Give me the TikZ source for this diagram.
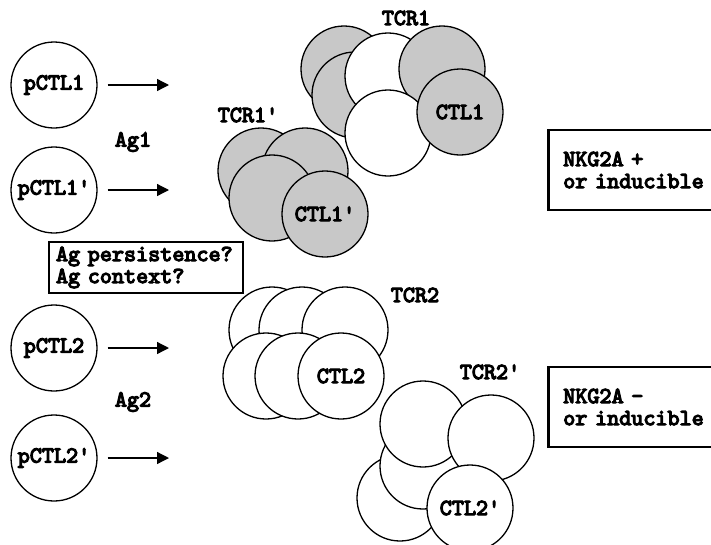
\documentclass[tikz,border=0pt]{standalone}
\usepackage{fontspec}
\newfontfamily\cellfont{lmmono10-regular}[Extension=.otf,FakeBold=5]
\usetikzlibrary{arrows.meta}
\definecolor{cellgris}{RGB}{200,200,200}
\newcommand{\cell}[5]{%
  \node[cell,fill=#4] (#1) at (#2,#3) {#5};
}

\begin{document}
\begin{tikzpicture}[x=1pt,y=-1pt,
  txt/.style={font=\cellfont\fontsize{23pt}{22pt}\selectfont},
  cell/.style={txt,circle,draw,line width=1.3pt,minimum size=86pt,inner sep=0pt},
  note/.style={txt,draw,line width=2.5pt,align=left,inner ysep=0pt},
  fleche/.style={line width=1.3pt,-{Triangle[length=12pt,width=12pt]}}]
  \useasboundingbox (0,0) rectangle (711,544);
  \clip (0,0) rectangle (711,544);
  % --- Précurseurs et flèches ---
  \foreach \n/\y/\lab in {p1/85/pCTL1,p1b/190/pCTL1',p2/348/pCTL2,p2b/458/pCTL2'} {
    \node[cell,fill=white] (\n) at (54,\y) {\lab};
    \coordinate (\n-tip) at (169,\y);
    \draw[fleche,shorten <=10pt] (\n.east) -- (\n-tip);
  }
  \node[txt] (ag1) at (133,142) {Ag1};
  \node[txt] (ag2) at (133,402) {Ag2};
  \node[note,text width=180pt,inner xsep=7pt,minimum height=51pt] (agq) at (146,267.5)
    {Ag persistence?\\Ag context?};
  % --- Clone TCR1 ---
  \cell{t1a}{344}{69}{cellgris}{}
  \cell{t1b}{355}{95}{cellgris}{}
  \cell{t1c}{388}{76}{white}{}
  \cell{t1d}{442}{69}{cellgris}{}
  \cell{t1e}{388}{133}{white}{}
  \cell{t1f}{460}{112}{cellgris}{CTL1}
  \node[txt] (tcr1) at (406,18) {TCR1};
  % --- Clone TCR1' ---
  \cell{u1a}{261}{171}{cellgris}{}
  \cell{u1b}{305}{171}{cellgris}{}
  \cell{u1c}{272}{198}{cellgris}{}
  \cell{u1d}{325}{214}{cellgris}{CTL1'}
  \node[txt] (tcr1b) at (248,115) {TCR1'};
  % --- Clone TCR2 ---
  \cell{v2a}{272}{330}{white}{}
  \cell{v2b}{302}{330}{white}{}
  \cell{v2c}{345}{330}{white}{}
  \cell{v2d}{266}{376}{white}{}
  \cell{v2e}{298}{376}{white}{}
  \cell{v2f}{341}{376}{white}{CTL2}
  \node[txt] (tcr2) at (415,295) {TCR2};
  % --- Clone TCR2' ---
  \cell{w2c}{400}{498}{white}{}
  \cell{w2b}{423}{466}{white}{}
  \cell{w2a}{423}{424}{white}{}
  \cell{w2d}{491}{438}{white}{}
  \cell{w2e}{470}{508}{white}{CTL2'}
  \node[txt] (tcr2b) at (490,372) {TCR2'};
  % --- Phénotype NKG2A ---
  \node[note,anchor=west,text width=190pt,inner xsep=15pt,minimum height=80pt] (nkp) at (547,170)
    {NKG2A +\\or inducible};
  \node[note,anchor=west,text width=190pt,inner xsep=15pt,minimum height=80pt] (nkm) at (547,407)
    {NKG2A -\\or inducible};
\end{tikzpicture}
\end{document}
